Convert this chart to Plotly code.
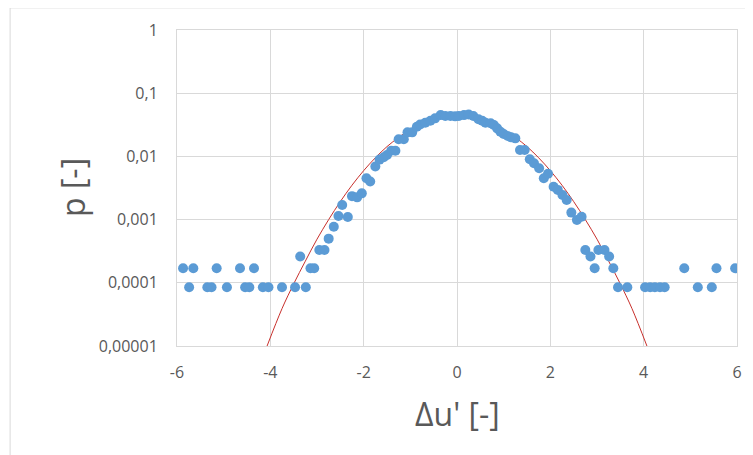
import plotly.graph_objects as go

pts_x = [-5.87, -5.74, -5.65, -5.35, -5.26, -5.15, -4.93, -4.65, -4.54, -4.45,
         -4.35, -4.16, -4.04, -3.75, -3.47, -3.36, -3.24, -3.14, -3.06, -2.95,
         -2.84, -2.75, -2.64, -2.54, -2.46, -2.34, -2.25, -2.14, -2.04, -1.94,
         -1.86, -1.75, -1.66, -1.57, -1.50, -1.41, -1.32, -1.25, -1.14, -1.06,
         -0.96, -0.86, -0.79, -0.68, -0.57, -0.47, -0.35, -0.25, -0.14, -0.04,
         0.04, 0.15, 0.25, 0.35, 0.46, 0.54, 0.61, 0.72, 0.79, 0.86,
         0.93, 1.00, 1.09, 1.16, 1.25, 1.35, 1.45, 1.56, 1.65, 1.76,
         1.86, 1.95, 2.07, 2.16, 2.26, 2.35, 2.45, 2.57, 2.67, 2.75,
         2.86, 2.95, 3.03, 3.16, 3.26, 3.35, 3.45, 3.65, 4.03, 4.14,
         4.24, 4.35, 4.45, 4.87, 5.16, 5.46, 5.56, 5.96]
pts_y = [1.7e-4, 8.5e-5, 1.7e-4, 8.5e-5, 8.5e-5, 1.7e-4, 8.5e-5, 1.7e-4, 8.5e-5, 8.5e-5,
         1.7e-4, 8.5e-5, 8.5e-5, 8.5e-5, 8.5e-5, 2.6e-4, 8.5e-5, 1.7e-4, 1.7e-4, 3.3e-4,
         3.3e-4, 5.0e-4, 7.7e-4, 1.14e-3, 1.7e-3, 1.1e-3, 2.35e-3, 2.25e-3, 2.6e-3, 4.5e-3,
         4.0e-3, 6.9e-3, 8.9e-3, 9.7e-3, 1.05e-2, 1.23e-2, 1.23e-2, 1.87e-2, 1.87e-2, 2.4e-2,
         2.4e-2, 2.95e-2, 3.2e-2, 3.4e-2, 3.67e-2, 4.0e-2, 4.5e-2, 4.36e-2, 4.36e-2, 4.3e-2,
         4.36e-2, 4.5e-2, 4.6e-2, 4.36e-2, 3.86e-2, 3.67e-2, 3.4e-2, 3.34e-2, 3.14e-2, 2.78e-2,
         2.46e-2, 2.26e-2, 2.1e-2, 2.0e-2, 1.93e-2, 1.26e-2, 1.26e-2, 9.0e-3, 7.8e-3, 6.5e-3,
         4.5e-3, 5.3e-3, 3.3e-3, 2.95e-3, 2.45e-3, 2.04e-3, 1.29e-3, 9.9e-4, 1.11e-3, 3.3e-4,
         2.6e-4, 1.7e-4, 3.3e-4, 3.3e-4, 2.6e-4, 1.7e-4, 8.5e-5, 8.5e-5, 8.5e-5, 8.5e-5,
         8.5e-5, 8.5e-5, 8.5e-5, 1.7e-4, 8.5e-5, 8.5e-5, 1.7e-4, 1.7e-4]

# Fitted curve
fit_x = [-4.07, -3.75, -3.5, -3.25, -3.0, -2.75, -2.5, -2.25, -2.0, -1.75, -1.5,
         -1.25, -1.0, -0.75, -0.5, -0.25, 0.0, 0.25, 0.5, 0.75, 1.0, 1.25,
         1.5, 1.75, 2.0, 2.25, 2.5, 2.75, 3.0, 3.25, 3.5, 3.75, 4.07]
fit_y = [1.0e-5, 3.9e-5, 9.6e-5, 2.2e-4, 4.9e-4, 1.0e-3, 1.93e-3, 3.5e-3, 5.95e-3, 9.5e-3, 1.43e-2,
         2.0e-2, 2.67e-2, 3.3e-2, 3.88e-2, 4.27e-2, 4.4e-2, 4.27e-2, 3.88e-2, 3.3e-2, 2.67e-2, 2.0e-2,
         1.43e-2, 9.5e-3, 5.95e-3, 3.5e-3, 1.93e-3, 1.0e-3, 4.9e-4, 2.2e-4, 9.6e-5, 3.9e-5, 1.0e-5]

x_ticks = [-6, -4, -2, 0, 2, 4, 6]
y_ticks = [1e-5, 1e-4, 1e-3, 1e-2, 1e-1, 1]
y_labels = ["0,00001", "0,0001", "0,001", "0,01", "0,1", "1"]

FONT = "Open Sans"
GRAY = "#595959"
GRID = "#D9D9D9"

fig = go.Figure()
fig.add_trace(go.Scatter(x=fit_x, y=fit_y, mode="lines",
                         line=dict(color="#C8302C", width=1, shape="spline"),
                         showlegend=False))
fig.add_trace(go.Scatter(x=pts_x, y=pts_y, mode="markers",
                         marker=dict(size=10, color="#5B9BD5", line=dict(width=0)),
                         showlegend=False))

fig.update_layout(
    width=745, height=447,
    margin=dict(l=169, r=16, t=22, b=109),
    paper_bgcolor="white", plot_bgcolor="white",
    font=dict(family=FONT, color=GRAY, size=16),
    xaxis=dict(range=[-6, 6], tickvals=x_ticks, ticktext=[str(v) for v in x_ticks],
               showgrid=True, gridcolor=GRID, gridwidth=1, zeroline=False,
               showline=True, linecolor=GRID, mirror=True,
               ticks="outside", ticklen=12, tickcolor="rgba(0,0,0,0)",
               tickfont=dict(size=16, color=GRAY)),
    yaxis=dict(type="log", range=[-5, 0], tickvals=y_ticks, ticktext=y_labels,
               showgrid=True, gridcolor=GRID, gridwidth=1, zeroline=False,
               showline=True, linecolor=GRID, mirror=True,
               ticks="outside", ticklen=15, tickcolor="rgba(0,0,0,0)",
               tickfont=dict(size=16, color=GRAY)),
    annotations=[
        dict(text="Δu' [-]", xref="paper", yref="paper", x=0.5, y=-0.215,
             xanchor="center", yanchor="middle", showarrow=False,
             font=dict(size=32, color=GRAY, family=FONT)),
        dict(text="p [-]", xref="paper", yref="paper", x=-0.1875, y=0.5,
             xanchor="center", yanchor="middle", showarrow=False, textangle=-90,
             font=dict(size=32, color=GRAY, family=FONT)),
    ],
    shapes=[
        dict(type="path", xref="paper", yref="paper",
             path="M -0.298 -0.5 L -0.298 1.07 L 1.1 1.07",
             line=dict(color="#D9D9D9", width=1)),
    ],
)

fig.write_html("out.html")
